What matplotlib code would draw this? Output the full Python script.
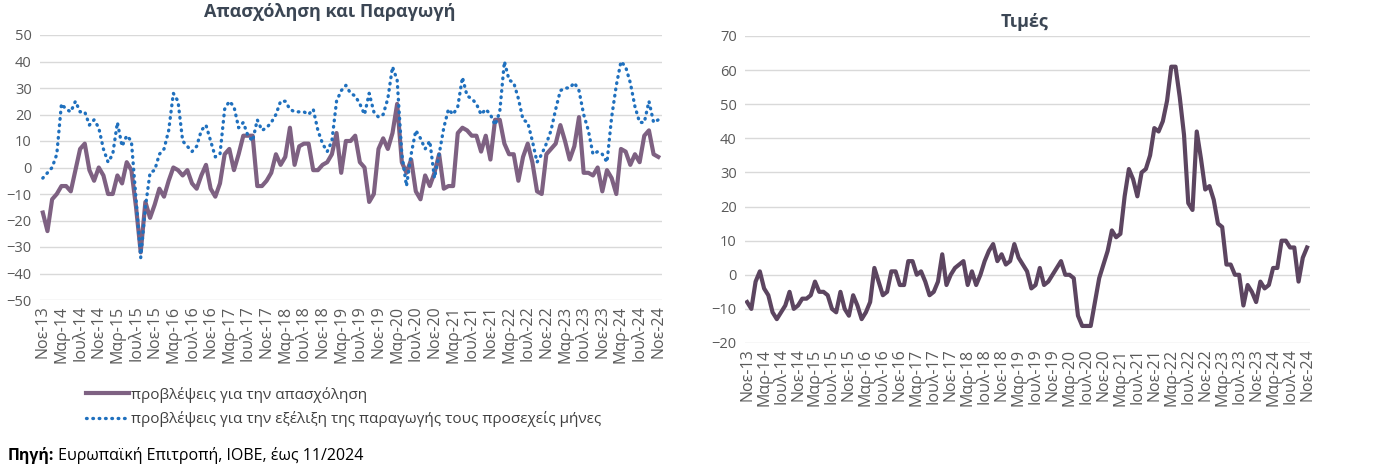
import matplotlib
matplotlib.use("Agg")
import matplotlib.pyplot as plt
import numpy as np

plt.rcParams['font.family'] = ['Open Sans', 'Noto Sans', 'DejaVu Sans']

# Monthly values Nov-13 .. Nov-24 (133 months)
employment = [-17, -24, -12, -10, -7, -7, -9, -1, 7, 9,
              -1, -5, 0, -3, -10, -10, -3, -6, 2, -1,
              -15, -32, -13, -19, -14, -8, -11, -5, 0, -1,
              -3, -1, -6, -8, -3, 1, -8, -11, -6, 5,
              7, -1, 5, 12, 12, 12, -7, -7, -5, -2,
              5, 1, 4, 15, 1, 8, 9, 9, -1, -1,
              1, 2, 5, 13, -2, 10, 10, 12, 2, 0,
              -13, -10, 7, 11, 7, 13, 24, 2, -2, 3,
              -9, -12, -3, -7, -2, 5, -8, -7, -7, 13,
              15, 14, 12, 12, 6, 12, 3, 18, 18, 9,
              5, 5, -5, 4, 9, 2, -9, -10, 5, 7,
              9, 16, 10, 3, 8, 19, -2, -2, -3, 0,
              -9, -1, -4, -10, 7, 6, 1, 5, 2, 12,
              14, 5, 4]

production = [-4, -2, 0, 5, 24, 22, 21, 25, 21, 21,
              16, 18, 15, 7, 2, 5, 17, 8, 12, 10,
              -12, -34, -15, -2, -1, 5, 7, 14, 28, 25,
              10, 8, 6, 8, 14, 16, 10, 4, 5, 22,
              25, 23, 15, 17, 12, 10, 18, 14, 15, 17,
              20, 25, 25, 22, 21, 21, 21, 20, 22, 14,
              9, 6, 10, 25, 29, 31, 28, 27, 24, 20,
              28, 21, 19, 20, 26, 38, 33, 5, -7, 5,
              14, 11, 7, 10, -4, 5, 15, 22, 20, 23,
              34, 27, 26, 24, 20, 22, 20, 16, 21, 40,
              33, 32, 26, 18, 17, 10, 2, 5, 9, 14,
              22, 29, 30, 30, 32, 29, 20, 14, 5, 6,
              5, 2, 19, 31, 40, 38, 32, 23, 17, 17,
              25, 17, 18]

prices = [-8, -10, -2, 1, -4, -6, -11, -13, -11, -9,
          -5, -10, -9, -7, -7, -6, -2, -5, -5, -6,
          -10, -11, -5, -10, -12, -6, -9, -13, -11, -8,
          2, -2, -6, -5, 1, 1, -3, -3, 4, 4,
          0, 1, -2, -6, -5, -2, 6, -3, 0, 2,
          3, 4, -3, 1, -3, 0, 4, 7, 9, 4,
          6, 3, 4, 9, 5, 3, 1, -4, -3, 2,
          -3, -2, 0, 2, 4, 0, 0, -1, -12, -15,
          -15, -15, -8, -1, 3, 7, 13, 11, 12, 23,
          31, 28, 23, 30, 31, 35, 43, 42, 45, 51,
          61, 61, 52, 41, 21, 19, 42, 34, 25, 26,
          22, 15, 14, 3, 3, 0, 0, -9, -3, -5,
          -8, -2, -4, -3, 2, 2, 10, 10, 8, 8,
          -2, 5, 8]

tick_labels = ["Νοε-13", "Μαρ-14", "Ιουλ-14", "Νοε-14", "Μαρ-15", "Ιουλ-15", "Νοε-15",
               "Μαρ-16", "Ιουλ-16", "Νοε-16", "Μαρ-17", "Ιουλ-17", "Νοε-17",
               "Μαρ-18", "Ιουλ-18", "Νοε-18", "Μαρ-19", "Ιουλ-19", "Νοε-19",
               "Μαρ-20", "Ιουλ-20", "Νοε-20", "Μαρ-21", "Ιουλ-21", "Νοε-21",
               "Μαρ-22", "Ιουλ-22", "Νοε-22", "Μαρ-23", "Ιουλ-23", "Νοε-23",
               "Μαρ-24", "Ιουλ-24", "Νοε-24"]

label_emp = "προβλέψεις για την απασχόληση"
label_prod = "προβλέψεις για την εξέλιξη της παραγωγής τους προσεχείς μήνες"

x = np.arange(len(employment))
tick_pos = np.arange(0, len(employment), 4)

purple = "#7E6182"
purple_dark = "#5C4560"
blue = "#1F70BE"
grid_col = "#D9D9D9"
text_col = "#595959"
title_col = "#3B4654"

W, H = 1378, 471
fig = plt.figure(figsize=(W / 100, H / 100), dpi=100)

def px_axes(l, t, r, b):
    # axes placed by pixel box (left, top, right, bottom)
    return fig.add_axes([l / W, 1 - b / H, (r - l) / W, (b - t) / H])

def style(ax, yticks):
    for s in ax.spines.values():
        s.set_visible(False)
    ax.set_yticks(yticks)
    ax.grid(axis='y', color=grid_col, linewidth=1)
    ax.set_axisbelow(True)
    ax.tick_params(axis='both', length=0, colors=text_col)
    ax.tick_params(axis='y', labelsize=10.5, pad=6)
    ax.set_xticks(tick_pos)
    ax.set_xticklabels(tick_labels, rotation=90, fontsize=11.5, color=text_col)
    ax.tick_params(axis='x', pad=4)

# left panel: employment and production expectations
ax1 = px_axes(40, 35, 662, 300)
l1, = ax1.plot(x, employment, color=purple, linewidth=3, solid_joinstyle='round',
               label=label_emp, zorder=2)
l2, = ax1.plot(x, production, color=blue, linewidth=2.4, linestyle=(0, (0.2, 1.7)),
               dash_capstyle='round', label=label_prod, zorder=3)
ax1.set_ylim(-50, 50)
ax1.set_xlim(-0.6, 132.8)
style(ax1, np.arange(-50, 51, 10))

# right panel: prices
ax2 = px_axes(745, 36, 1310, 343)
ax2.plot(x, prices, color=purple_dark, linewidth=3, solid_joinstyle='round')
ax2.set_ylim(-20, 70)
ax2.set_xlim(-0.5, 132.7)
style(ax2, np.arange(-20, 71, 10))

fig.text(330 / W, 1 - 12 / H, "Απασχόληση και Παραγωγή", ha='center', va='center',
         fontsize=13, fontweight='bold', color=title_col)
fig.text(1025 / W, 1 - 22 / H, "Τιμές", ha='center', va='center',
         fontsize=13, fontweight='bold', color=title_col)

fig.legend(handles=[l1, l2], loc='upper left', bbox_to_anchor=(72 / W, 1 - 373 / H),
           frameon=False, fontsize=11, handlelength=2.8, handletextpad=0.15,
           labelspacing=0.55, labelcolor="#404040")

# source note: bold prefix, normal rest placed right after it
src = fig.text(8 / W, 1 - 456 / H, "Πηγή:", ha='left', va='center', fontsize=11.5,
               fontweight='bold', color='black')
fig.add_artist(matplotlib.text.Annotation(
    " Ευρωπαϊκή Επιτροπή, ΙΟΒΕ, έως 11/2024", xy=(1, 0.5), xycoords=src,
    ha='left', va='center', fontsize=11.5, color='black'))

fig.savefig("out.png", dpi=100)
